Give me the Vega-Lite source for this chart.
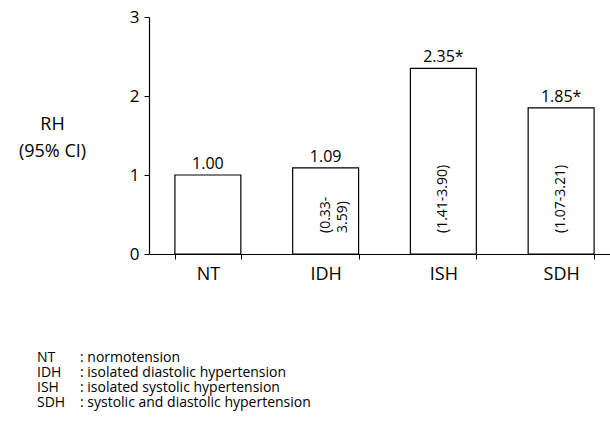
{
  "$schema": "https://vega.github.io/schema/vega-lite/v6.json",
  "width": 461,
  "height": 237,
  "autosize": {"type": "none"},
  "padding": {"left": 149, "top": 17, "right": 0, "bottom": 171},
  "background": "white",
  "config": {
    "view": {"stroke": null},
    "font": "Open Sans",
    "axis": {"domainColor": "black", "tickColor": "black", "labelColor": "black", "titleColor": "black", "grid": false, "domainWidth": 1.2, "tickWidth": 1}
  },
  "data": {
    "values": [
      {"group": "NT", "rh": 1.00, "label": "1.00", "ci": "", "desc": ": normotension"},
      {"group": "IDH", "rh": 1.09, "label": "1.09", "ci": "(0.33-\n3.59)", "desc": ": isolated diastolic hypertension"},
      {"group": "ISH", "rh": 2.35, "label": "2.35*", "ci": "(1.41-3.90)", "desc": ": isolated systolic hypertension"},
      {"group": "SDH", "rh": 1.85, "label": "1.85*", "ci": "(1.07-3.21)", "desc": ": systolic and diastolic hypertension"}
    ]
  },
  "layer": [
    {
      "layer": [
        {
          "mark": {"type": "bar", "fill": "white", "stroke": "black", "strokeWidth": 1.2},
          "encoding": {
            "x": {
              "field": "group", "type": "nominal", "sort": null,
              "scale": {"range": [0, 471], "paddingInner": 0.44, "paddingOuter": 0.22},
              "axis": {"title": null, "labelAngle": 0, "labelFontSize": 18, "tickBand": "extent", "tickSize": 5, "labelPadding": 6}
            },
            "y": {
              "field": "rh", "type": "quantitative",
              "scale": {"domain": [0, 3], "nice": false},
              "axis": {
                "values": [0, 1, 2, 3],
                "format": "d",
                "title": ["RH", "(95% CI)"],
                "titleAngle": 0, "titleX": -97, "titleY": 98,
                "titleAlign": "center", "titleBaseline": "top",
                "titleFontSize": 18, "titleFontWeight": "normal", "titleLineHeight": 27,
                "labelFontSize": 17, "tickSize": 5, "labelPadding": 5
              }
            }
          }
        },
        {
          "mark": {"type": "text", "baseline": "bottom", "dy": -3, "fontSize": 16},
          "encoding": {
            "x": {"field": "group", "type": "nominal", "sort": null},
            "y": {"field": "rh", "type": "quantitative"},
            "text": {"field": "label"}
          }
        },
        {
          "mark": {"type": "text", "angle": 270, "align": "left", "baseline": "middle", "dx": 21, "fontSize": 14, "lineBreak": "\n", "lineHeight": 17},
          "encoding": {
            "x": {"field": "group", "type": "nominal", "sort": null},
            "y": {"datum": 0, "type": "quantitative"},
            "text": {"field": "ci"}
          }
        }
      ]
    },
    {
      "layer": [
        {
          "mark": {"type": "text", "align": "left", "baseline": "middle", "fontSize": 14},
          "encoding": {
            "x": {"value": -112},
            "y": {"field": "group", "type": "ordinal", "sort": null, "scale": {"range": [341, 386], "padding": 0}, "axis": null},
            "text": {"field": "group"}
          }
        },
        {
          "mark": {"type": "text", "align": "left", "baseline": "middle", "fontSize": 14},
          "encoding": {
            "x": {"value": -69},
            "y": {"field": "group", "type": "ordinal", "sort": null},
            "text": {"field": "desc"}
          }
        }
      ]
    }
  ],
  "resolve": {"scale": {"y": "independent"}}
}
